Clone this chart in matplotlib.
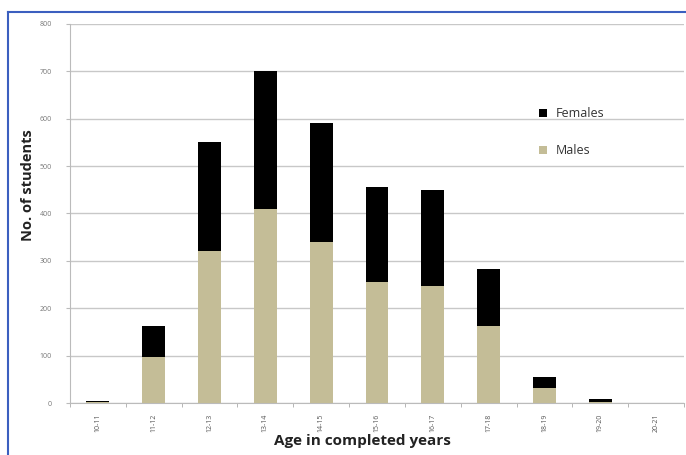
import matplotlib
matplotlib.use("Agg")
import matplotlib.pyplot as plt
from matplotlib.lines import Line2D
from matplotlib.patches import Patch
import numpy as np

plt.rcParams['font.family'] = ['Open Sans', 'DejaVu Sans']

# Students by age group
age_groups = ["10-11", "11-12", "12-13", "13-14", "14-15", "15-16",
              "16-17", "17-18", "18-19", "19-20", "20-21"]
males = [2, 98, 320, 410, 340, 255, 248, 162, 32, 3, 0]
females = [2, 65, 230, 290, 250, 200, 202, 120, 23, 5, 0]
y_ticks = [0, 100, 200, 300, 400, 500, 600, 700, 800]

male_color = "#C4BD97"
female_color = "#000000"

fig = plt.figure(figsize=(6.86, 4.55), dpi=100)
ax = fig.add_axes([70 / 686, 52 / 455, 614 / 686, 379 / 455])

x = np.arange(len(age_groups))
width = 0.41
ax.bar(x, males, width, color=male_color, zorder=3, label="Males")
ax.bar(x, females, width, bottom=males, color=female_color, zorder=3, label="Females")

ax.set_xlim(-0.5, len(age_groups) - 0.5)
ax.set_ylim(0, 800)
ax.set_yticks(y_ticks)
ax.set_yticklabels([str(v) for v in y_ticks], fontsize=5, color="#777777")
ax.yaxis.grid(True, color="#c8c8c8", linewidth=1.0, zorder=0)

ax.set_xticks(x)
ax.set_xticklabels(age_groups, rotation=90, fontsize=5, color="#555555")
ax.set_xticks(np.arange(-0.5, len(age_groups), 1.0), minor=True)
ax.tick_params(axis="x", which="major", length=0, pad=8)
ax.tick_params(axis="x", which="minor", length=3, color="#aaaaaa")
ax.tick_params(axis="y", length=3, color="#bbbbbb", pad=10)

for side in ("top", "right"):
    ax.spines[side].set_visible(False)
ax.spines["left"].set_color("#bbbbbb")
ax.spines["bottom"].set_color("#bbbbbb")

fig.text(28 / 686, 1 - 185 / 455, "No. of students", rotation=90,
         ha="center", va="center", fontsize=10.5, fontweight="bold", color="#222222")
fig.text(362 / 686, 1 - 441 / 455, "Age in completed years",
         ha="center", va="center", fontsize=11, fontweight="bold", color="#222222")

handles = [Patch(facecolor=female_color, edgecolor="none"),
           Patch(facecolor=male_color, edgecolor="none")]
ax.legend(handles, ["Females", "Males"], loc="upper left",
          bbox_to_anchor=((528 - 70) / 614, 1 - (96 - 24) / 379),
          frameon=False, fontsize=9, labelcolor="#333333",
          handlelength=0.6, handleheight=0.6, handletextpad=0.7,
          labelspacing=1.9)

# Blue frame along the top and left edges
fig.add_artist(Line2D([8 / 686, 1.0], [1 - 12 / 455, 1 - 12 / 455],
                      color="#3b5fbf", linewidth=1.5, transform=fig.transFigure))
fig.add_artist(Line2D([8 / 686, 8 / 686], [0.0, 1 - 12 / 455],
                      color="#3b5fbf", linewidth=1.5, transform=fig.transFigure))

fig.savefig("out.png", dpi=100)
